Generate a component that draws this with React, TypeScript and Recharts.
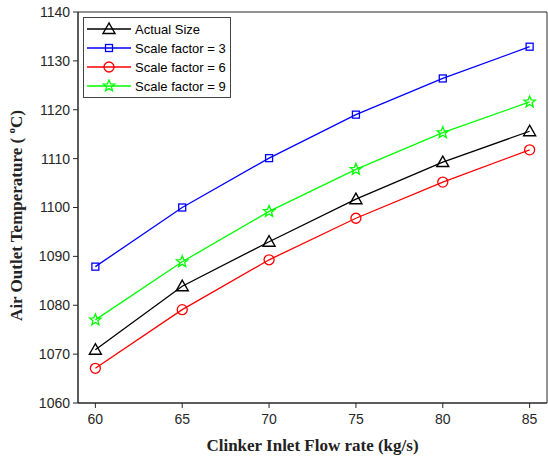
import { LineChart, Line, XAxis, YAxis, ReferenceArea } from 'recharts';

const flowRates = [60, 65, 70, 75, 80, 85];
const actualSize = [1070.9, 1083.9, 1093.0, 1101.7, 1109.3, 1115.6];
const scale3 = [1087.9, 1100.0, 1110.1, 1119.0, 1126.4, 1132.9];
const scale6 = [1067.1, 1079.1, 1089.3, 1097.8, 1105.2, 1111.8];
const scale9 = [1077.0, 1088.9, 1099.2, 1107.8, 1115.3, 1121.6];
const xTicks = [60, 65, 70, 75, 80, 85];
const yTicks = [1060, 1070, 1080, 1090, 1100, 1110, 1120, 1130, 1140];

const data = flowRates.map((x, i) => ({
  x,
  actual: actualSize[i],
  s3: scale3[i],
  s6: scale6[i],
  s9: scale9[i],
}));

const AXIS = '#262626';
const TICK_FONT = { fontSize: 14, fill: AXIS, fontFamily: 'Liberation Sans, Arial, sans-serif' };

type MarkerKind = 'triangle' | 'square' | 'circle' | 'star';

function Marker({ kind, cx, cy, color }: { kind: MarkerKind; cx: number; cy: number; color: string }) {
  if (kind === 'triangle') {
    return (
      <polygon
        points={`${cx},${cy - 6} ${cx - 6},${cy + 4.5} ${cx + 6},${cy + 4.5}`}
        fill="none"
        stroke={color}
        strokeWidth={1.4}
      />
    );
  }
  if (kind === 'square') {
    return <rect x={cx - 3.5} y={cy - 3.5} width={7} height={7} fill="none" stroke={color} strokeWidth={1.3} />;
  }
  if (kind === 'circle') {
    return <circle cx={cx} cy={cy} r={5} fill="none" stroke={color} strokeWidth={1.3} />;
  }
  // five-pointed star
  const pts: string[] = [];
  for (let k = 0; k < 10; k++) {
    const r = k % 2 === 0 ? 6 : 2.6;
    const a = -Math.PI / 2 + (k * Math.PI) / 5;
    pts.push(`${cx + r * Math.cos(a)},${cy + r * Math.sin(a)}`);
  }
  return <polygon points={pts.join(' ')} fill="none" stroke={color} strokeWidth={1.3} />;
}

const seriesDefs: { key: string; name: string; color: string; marker: MarkerKind }[] = [
  { key: 'actual', name: 'Actual Size', color: '#000000', marker: 'triangle' },
  { key: 's3', name: 'Scale factor = 3', color: '#0000ff', marker: 'square' },
  { key: 's6', name: 'Scale factor = 6', color: '#ff0000', marker: 'circle' },
  { key: 's9', name: 'Scale factor = 9', color: '#00ff00', marker: 'star' },
];

function LegendBox() {
  return (
    <svg width={148} height={81} style={{ display: 'block', overflow: 'visible' }}>
      <rect x={0.5} y={0.5} width={147} height={80} fill="#fff" stroke="#444" strokeWidth={1} />
      {seriesDefs.map((s, i) => {
        const y = 12 + i * 19;
        return (
          <g key={s.key}>
            <line x1={4} x2={48} y1={y} y2={y} stroke={s.color} strokeWidth={1.3} />
            <Marker kind={s.marker} cx={26} cy={y} color={s.color} />
            <text x={52} y={y + 5} fontSize={13} fill="#000" fontFamily="Liberation Sans, Arial, sans-serif">
              {s.name}
            </text>
          </g>
        );
      })}
    </svg>
  );
}

export default function App() {
  return (
    <div style={{ position: 'absolute', left: 0, top: 0, width: 548, height: 457, background: '#fff' }}>
      <LineChart width={548} height={457} data={data} margin={{ top: 12, right: 1, left: 0, bottom: 0 }}>
        <XAxis
          dataKey="x"
          type="number"
          domain={[59, 86]}
          ticks={xTicks}
          allowDataOverflow
          height={54}
          stroke={AXIS}
          tick={TICK_FONT}
          tickSize={5}
          tickMargin={6}
          label={{
            value: 'Clinker Inlet Flow rate (kg/s)',
            position: 'insideBottom',
            offset: 6,
            style: {
              fontFamily: 'Liberation Serif, Times New Roman, serif',
              fontWeight: 'bold',
              fontSize: 17,
              fill: '#222',
            },
          }}
        />
        <YAxis
          type="number"
          domain={[1060, 1140]}
          ticks={yTicks}
          width={78}
          stroke={AXIS}
          tick={TICK_FONT}
          tickSize={5}
          tickMargin={3}
          label={({ viewBox }: any) => {
            const cx = 22;
            const cy = viewBox.y + viewBox.height / 2 + 8;
            return (
              <text
                transform={`translate(${cx},${cy}) rotate(-90)`}
                textAnchor="middle"
                fontFamily="Liberation Serif, Times New Roman, serif"
                fontWeight="bold"
                fontSize={17}
                fill="#222"
              >
                {'Air Outlet Temperature ( '}
                <tspan fontSize={11} dy={-7}>o</tspan>
                <tspan dy={7}>C)</tspan>
              </text>
            );
          }}
        />
        <ReferenceArea x1={59} x2={86} y1={1060} y2={1140} fill="none" fillOpacity={0} stroke={AXIS} strokeWidth={1} />
        {seriesDefs.map((s) => (
          <Line
            key={s.key}
            dataKey={s.key}
            name={s.name}
            stroke={s.color}
            strokeWidth={1.3}
            isAnimationActive={false}
            dot={(p: any) => <Marker key={`${s.key}-${p.index}`} kind={s.marker} cx={p.cx} cy={p.cy} color={s.color} />}
            activeDot={false}
          />
        ))}
      </LineChart>
      <div style={{ position: 'absolute', left: 83, top: 17 }}>
        <LegendBox />
      </div>
    </div>
  );
}
